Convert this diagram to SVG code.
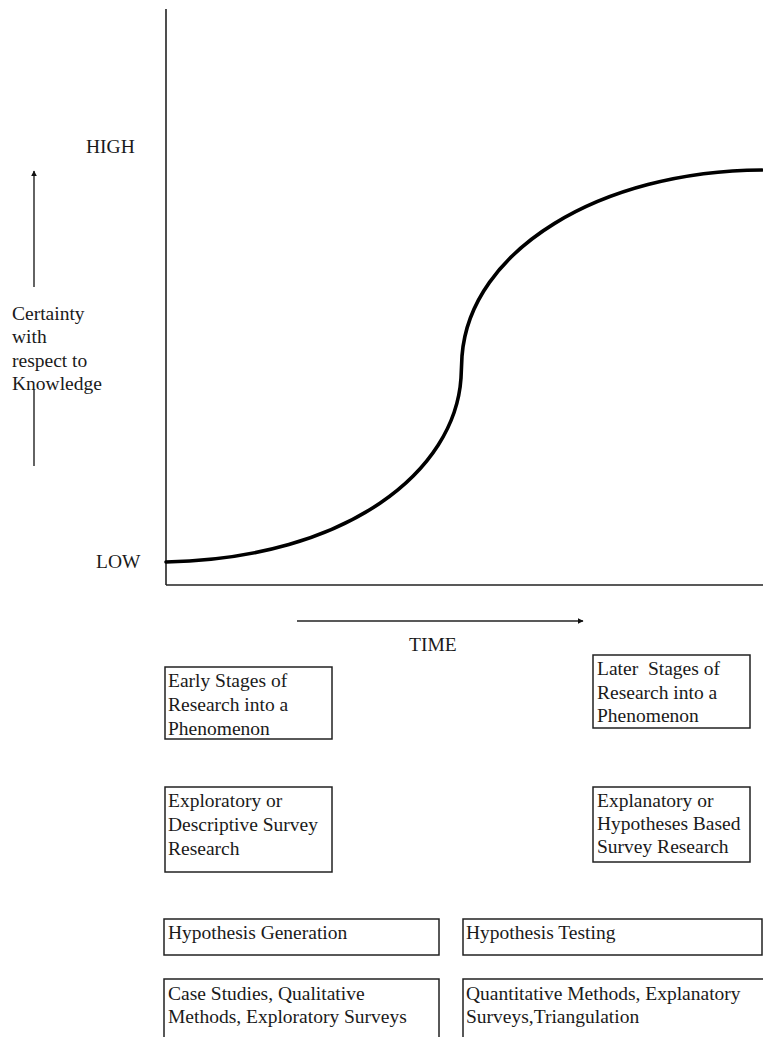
<svg xmlns="http://www.w3.org/2000/svg" width="763" height="1037" viewBox="0 0 763 1037">
  <style>
    text { font-family: "Liberation Serif", "Times New Roman", serif; font-size: 19.5px; fill: #1a1a1a; }
    .axis { stroke: #222; stroke-width: 1.6; fill: none; }
    .box { stroke: #222; stroke-width: 1.5; fill: #fff; }
    .curve { stroke: #000; stroke-width: 3.6; fill: none; stroke-linecap: round; }
    .arrow { stroke: #222; stroke-width: 1.4; fill: none; }
  </style>
  <defs>
    <marker id="head" viewBox="0 0 10 10" refX="9" refY="5" markerWidth="6" markerHeight="6" orient="auto" markerUnits="userSpaceOnUse">
      <path d="M0,0 L10,5 L0,10 Z" fill="#111"/>
    </marker>
  </defs>
  <rect width="763" height="1037" fill="#fff"/>

  <!-- axes -->
  <g id="axes">
    <line class="axis" x1="166" y1="9" x2="166" y2="585"/>
    <line class="axis" x1="166" y1="585" x2="763" y2="585"/>
  </g>

  <!-- S-shaped certainty curve -->
  <path id="curve" class="curve" d="M166,562 C350,558 455,470 461,378 L462,356 C470,250 600,171 762,170"/>

  <!-- axis labels -->
  <g id="labels">
    <text x="86" y="153">HIGH</text>
    <text x="96" y="568">LOW</text>
    <text x="409" y="651">TIME</text>
    <text x="12" y="320">Certainty</text>
    <text x="12" y="343">with</text>
    <text x="12" y="367">respect to</text>
    <text x="12" y="390">Knowledge</text>
  </g>

  <!-- connectors -->
  <g id="connectors">
    <line class="arrow" x1="34" y1="287" x2="34" y2="171" marker-end="url(#head)"/>
    <line class="arrow" x1="34" y1="390" x2="34" y2="466"/>
    <line class="arrow" x1="297" y1="621" x2="583" y2="621" marker-end="url(#head)"/>
  </g>

  <g id="early-stages">
    <rect class="box" x="165" y="667" width="167" height="72"/>
    <text x="168" y="687">Early Stages of</text>
    <text x="168" y="711">Research into a</text>
    <text x="168" y="735">Phenomenon</text>
  </g>

  <g id="later-stages">
    <rect class="box" x="593" y="655" width="157" height="73"/>
    <text x="597" y="675" xml:space="preserve">Later  Stages of</text>
    <text x="597" y="699">Research into a</text>
    <text x="597" y="722">Phenomenon</text>
  </g>

  <g id="exploratory">
    <rect class="box" x="165" y="787" width="167" height="85"/>
    <text x="168" y="807">Exploratory or</text>
    <text x="168" y="831">Descriptive Survey</text>
    <text x="168" y="855">Research</text>
  </g>

  <g id="explanatory">
    <rect class="box" x="593" y="787" width="157" height="75"/>
    <text x="597" y="807">Explanatory or</text>
    <text x="597" y="830">Hypotheses Based</text>
    <text x="597" y="853">Survey Research</text>
  </g>

  <g id="hypothesis-generation">
    <rect class="box" x="164" y="919" width="275" height="36"/>
    <text x="168" y="939">Hypothesis Generation</text>
  </g>

  <g id="hypothesis-testing">
    <rect class="box" x="463" y="919" width="299" height="36"/>
    <text x="466" y="939">Hypothesis Testing</text>
  </g>

  <g id="early-methods">
    <rect class="box" x="164" y="979" width="275" height="70"/>
    <text x="168" y="1000">Case Studies, Qualitative</text>
    <text x="168" y="1023">Methods, Exploratory Surveys</text>
  </g>

  <g id="later-methods">
    <rect class="box" x="463" y="979" width="305" height="70"/>
    <text x="466" y="1000">Quantitative Methods, Explanatory</text>
    <text x="466" y="1023">Surveys,Triangulation</text>
  </g>
</svg>
